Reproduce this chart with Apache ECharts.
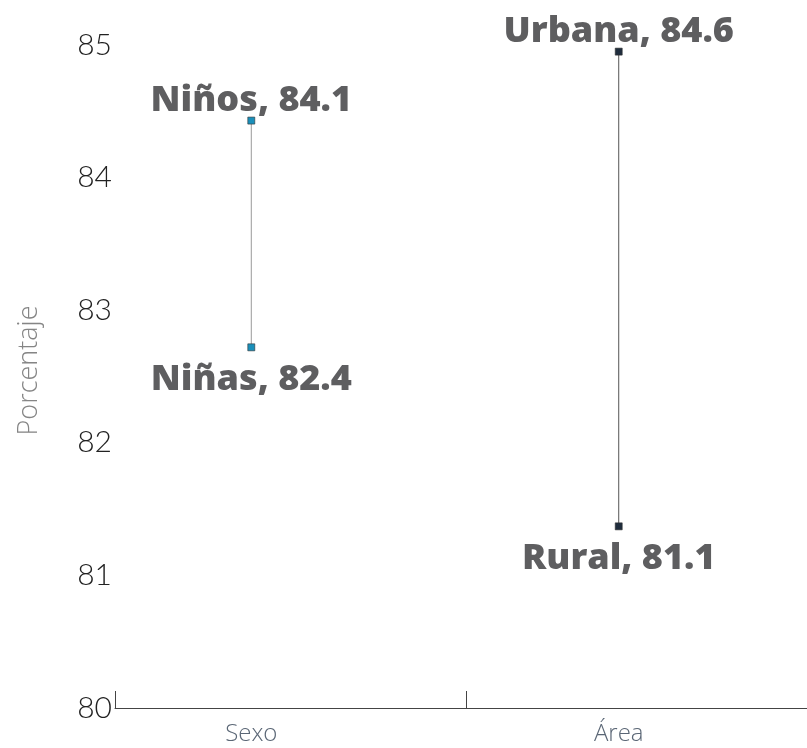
<!DOCTYPE html>
<html>
<head>
<meta charset="UTF-8">
<script src="https://cdn.jsdelivr.net/npm/echarts@6/dist/echarts.min.js"></script>
<style>
  html, body { margin: 0; padding: 0; background: #fff; }
  #chart { width: 807px; height: 748px; }
</style>
</head>
<body>
<div id="chart"></div>
<script>
// grupos del eje x
var grupos = ['Sexo', 'Área'];
// categorías dentro de cada grupo (arriba, abajo)
var categorias = [['Niños', 'Niñas'], ['Urbana', 'Rural']];
// valores publicados (texto de las etiquetas)
var valores = [['84.1', '82.4'], ['84.6', '81.1']];
// altura a la que aparece cada punto en la escala dibujada
var alturas = [[84.43, 82.72], [84.95, 81.37]];
var ticksY = [80, 81, 82, 83, 84, 85];

var colores = ['#1a8fba', '#1f2d3d'];
var xCentro = [0.388, 1.434]; // centro de cada grupo sobre el eje
var xLimites = [0, 1];

var chart = echarts.init(document.getElementById('chart'));

var series = grupos.map(function (g, i) {
  return {
    type: 'line',
    name: g,
    symbol: 'rect',
    symbolSize: 7,
    itemStyle: { color: colores[i], borderColor: '#333', borderWidth: 0.6 },
    lineStyle: { color: i === 0 ? '#9a9a9a' : '#555', width: 1 },
    data: alturas[i].map(function (v, j) {
      return {
        value: [xCentro[i], v],
        label: {
          show: true,
          position: j === 0 ? 'top' : 'bottom',
          distance: 6,
          offset: j === 0 ? [0, 8] : [0, 5],
          formatter: categorias[i][j] + ', ' + valores[i][j]
        }
      };
    }),
    label: {
      fontFamily: 'Open Sans',
      fontWeight: 800,
      fontSize: 36,
      color: '#5e5e60'
    },
    animation: false
  };
});

chart.setOption({
  backgroundColor: '#fff',
  grid: { left: 115, right: 0, top: 45, bottom: 40 },
  xAxis: {
    type: 'value',
    min: 0,
    max: 1.97,
    axisLine: { show: true, lineStyle: { color: '#444', width: 1 } },
    axisTick: {
      show: true,
      inside: true,
      length: 17,
      customValues: xLimites,
      lineStyle: { color: '#444' }
    },
    axisLabel: {
      customValues: xCentro,
      formatter: function (v) {
        var k = xCentro.indexOf(v);
        return k >= 0 ? grupos[k] : '';
      },
      margin: 14,
      fontFamily: 'Open Sans',
      fontWeight: 300,
      fontSize: 24,
      color: '#5b6776'
    },
    splitLine: { show: false }
  },
  yAxis: {
    type: 'value',
    min: ticksY[0],
    max: ticksY[ticksY.length - 1],
    interval: 1,
    name: 'Porcentaje',
    nameLocation: 'middle',
    nameGap: 72,
    nameTextStyle: { fontFamily: 'Open Sans', fontWeight: 300, fontSize: 27, color: '#858585', padding: [0, 0, 0, 12] },
    axisLine: { show: false },
    axisTick: { show: false },
    splitLine: { show: false },
    axisLabel: {
      margin: 3,
      fontFamily: 'Lato',
      fontWeight: 300,
      fontSize: 30,
      color: '#222'
    }
  },
  series: series
});
</script>
</body>
</html>
